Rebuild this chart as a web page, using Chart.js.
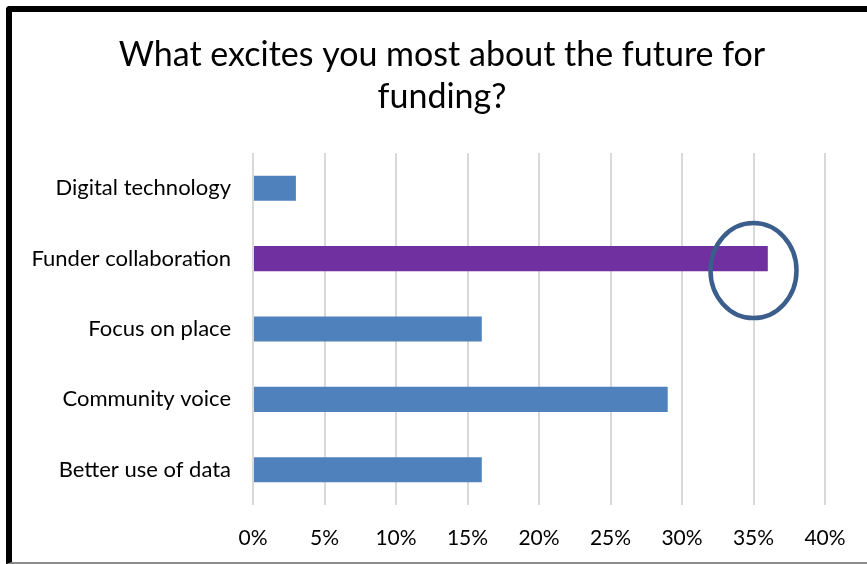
<!DOCTYPE html>
<html>
<head>
<meta charset="utf-8">
<script src="https://cdn.jsdelivr.net/npm/chart.js@4/dist/chart.umd.min.js"></script>
<style>
  body { margin: 0; background: #fff; }
  #wrap { position: relative; width: 867px; height: 564px; overflow: hidden; }
  #frame {
    position: absolute; left: 6px; top: 6px; right: -10px; bottom: 0;
    border-left: 6px solid #000; border-top: 6px solid #000;
    border-bottom: 2px solid #8c8c8c; border-top-left-radius: 4px;
    pointer-events: none;
  }
  #surveyChart { position: absolute; left: 0; top: 0; }
</style>
</head>
<body>
<div id="wrap">
  <canvas id="surveyChart" width="867" height="564"></canvas>
  <div id="frame"></div>
</div>
<script>
var titleLines = ['What excites you most about the future for', 'funding?'];
var categories = ['Digital technology', 'Funder collaboration', 'Focus on place', 'Community voice', 'Better use of data'];
var shares = [3, 36, 16, 29, 16];
var barColors = ['#4f81bd', '#7030a0', '#4f81bd', '#4f81bd', '#4f81bd'];
var tickValues = [0, 5, 10, 15, 20, 25, 30, 35, 40];

var fontFamily = 'Lato, "Open Sans", sans-serif';

// title sits a little right of the canvas centre, so it is drawn by hand
var headingPlugin = {
  id: 'heading',
  afterDraw: function (chart) {
    var c = chart.ctx;
    c.save();
    c.font = '34px ' + fontFamily;
    c.fillStyle = '#000';
    c.textAlign = 'center';
    c.textBaseline = 'middle';
    titleLines.forEach(function (line, i) {
      c.fillText(line, 442, 55 + i * 42);
    });
    c.restore();
  }
};

// ring drawn around the end of the highlighted bar
var ringPlugin = {
  id: 'ring',
  afterDatasetsDraw: function (chart) {
    var x = chart.scales.x, y = chart.scales.y, c = chart.ctx;
    var cx = x.getPixelForValue(35);
    var cy = y.getPixelForValue(1) + 12;
    c.save();
    c.beginPath();
    c.ellipse(cx, cy, 43, 47.5, 0, 0, Math.PI * 2);
    c.strokeStyle = '#3b5e8c';
    c.lineWidth = 4.5;
    c.stroke();
    c.restore();
  }
};

var ctx = document.getElementById('surveyChart').getContext('2d');
var surveyChart = new Chart(ctx, {
  type: 'bar',
  data: {
    labels: categories,
    datasets: [{
      data: shares,
      backgroundColor: barColors,
      borderWidth: 0,
      categoryPercentage: 1,
      barPercentage: 0.356
    }]
  },
  options: {
    indexAxis: 'y',
    responsive: false,
    animation: false,
    layout: { padding: { left: 14, right: 42, top: 153, bottom: 0 } },
    plugins: {
      legend: { display: false },
      tooltip: { enabled: false },
      title: { display: false }
    },
    scales: {
      x: {
        min: 0,
        max: 40,
        afterBuildTicks: function (axis) {
          axis.ticks = tickValues.map(function (v) { return { value: v }; });
        },
        afterFit: function (axis) { axis.height = 59; },
        grid: { color: '#d9d9d9', lineWidth: 2, drawTicks: false },
        border: { display: false },
        ticks: {
          color: '#000',
          padding: 21,
          font: { family: fontFamily, size: 21 },
          callback: function (v) { return v + '%'; }
        }
      },
      y: {
        afterFit: function (axis) { axis.width = 239; },
        grid: { display: false, drawTicks: false },
        border: { display: false },
        ticks: {
          color: '#000',
          padding: 22,
          font: { family: fontFamily, size: 22 }
        }
      }
    }
  },
  plugins: [headingPlugin, ringPlugin]
});
</script>
</body>
</html>
